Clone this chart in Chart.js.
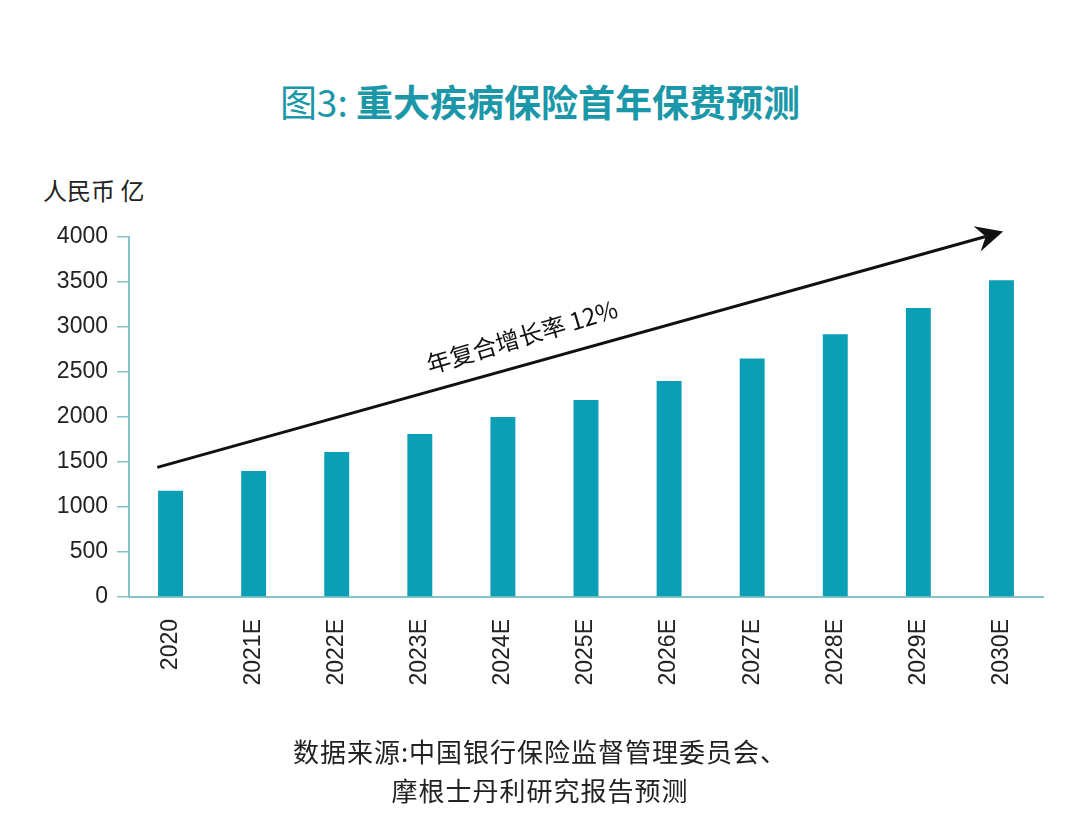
<!DOCTYPE html>
<html lang="zh">
<head>
  <meta charset="UTF-8" />
  <title>重大疾病保险首年保费预测</title>
  <script src="https://cdn.jsdelivr.net/npm/chart.js"></script>
  <style>
    html, body { margin: 0; padding: 0; background: #fff; }
    body { width: 1080px; height: 835px; position: relative; overflow: hidden; font-family: "Noto Sans CJK SC", "Noto Sans", sans-serif; }
    #chart { position: absolute; left: 0; top: 0; }
    .title { position: absolute; left: 0; width: 1080px; top: 74px; text-align: center; font-size: 37px; font-weight: 700; color: #1a97a8; }
    .title span { font-weight: 400; }
    .unit { position: absolute; left: 43px; top: 172px; font-size: 24px; color: #222; }
    .source { position: absolute; left: 0; width: 1080px; top: 731px; text-align: center; font-size: 26px; letter-spacing: 1px; line-height: 39px; color: #222; }
  </style>
</head>
<body>
  <div class="title"><span>图3:</span> 重大疾病保险首年保费预测</div>
  <div class="unit">人民币 亿</div>
  <canvas id="chart" width="1080" height="835"></canvas>
  <div class="source">数据来源:中国银行保险监督管理委员会、<br>摩根士丹利研究报告预测</div>

  <script>
    // data
    const years = ['2020', '2021E', '2022E', '2023E', '2024E', '2025E', '2026E', '2027E', '2028E', '2029E', '2030E'];
    const premiums = [1180, 1400, 1610, 1810, 2000, 2190, 2400, 2650, 2920, 3210, 3520];
    const yTicks = [0, 500, 1000, 1500, 2000, 2500, 3000, 3500, 4000];

    // trend arrow, in category index / value terms
    const arrowFrom = [-0.16, 1440];
    const arrowTo = [10.02, 4060];
    const arrowLabel = '年复合增长率 12%';

    const barColor = '#0a9fb4';
    const axisColor = '#86c3c8';

    const arrowPlugin = {
      id: 'trendArrow',
      afterDatasetsDraw(chart) {
        const ctx = chart.ctx;
        const x = chart.scales.x, y = chart.scales.y;
        const step = x.getPixelForValue(1) - x.getPixelForValue(0);
        const x0 = x.getPixelForValue(0) + arrowFrom[0] * step;
        const y0 = y.getPixelForValue(arrowFrom[1]);
        const x1 = x.getPixelForValue(0) + arrowTo[0] * step;
        const y1 = y.getPixelForValue(arrowTo[1]);
        const ang = Math.atan2(y1 - y0, x1 - x0);
        const head = 30;

        ctx.save();
        ctx.strokeStyle = '#111';
        ctx.fillStyle = '#111';
        ctx.lineWidth = 3;
        ctx.beginPath();
        ctx.moveTo(x0, y0);
        ctx.lineTo(x1 - Math.cos(ang) * head * 0.6, y1 - Math.sin(ang) * head * 0.6);
        ctx.stroke();

        // arrow head
        ctx.beginPath();
        ctx.moveTo(x1, y1);
        ctx.lineTo(x1 - head * Math.cos(ang - 0.45), y1 - head * Math.sin(ang - 0.45));
        ctx.lineTo(x1 - head * 0.6 * Math.cos(ang), y1 - head * 0.6 * Math.sin(ang));
        ctx.lineTo(x1 - head * Math.cos(ang + 0.45), y1 - head * Math.sin(ang + 0.45));
        ctx.closePath();
        ctx.fill();

        // label along the arrow
        const t = 0.44;
        const mx = x0 + (x1 - x0) * t, my = y0 + (y1 - y0) * t;
        const off = 28;
        ctx.translate(mx + Math.sin(ang) * off, my - Math.cos(ang) * off);
        ctx.rotate(ang - 0.02);
        ctx.font = '24px "Noto Sans CJK SC", sans-serif';
        ctx.textAlign = 'center';
        ctx.textBaseline = 'middle';
        ctx.fillText(arrowLabel, 0, 0);
        ctx.restore();
      }
    };

    new Chart(document.getElementById('chart'), {
      type: 'bar',
      data: {
        labels: years,
        datasets: [{
          data: premiums,
          backgroundColor: barColor,
          barPercentage: 0.3,
          categoryPercentage: 1
        }]
      },
      options: {
        responsive: false,
        animation: false,
        layout: { padding: { top: 237, left: 0, right: 37, bottom: 138 } },
        plugins: { legend: { display: false }, tooltip: { enabled: false } },
        scales: {
          x: {
            grid: { display: false },
            border: { color: axisColor, width: 2 },
            ticks: {
              minRotation: 90, maxRotation: 90, padding: 14,
              color: '#222',
              font: { family: '"Liberation Sans", Arial, sans-serif', size: 23 }
            },
            afterFit(scale) { scale.height = 100; }
          },
          y: {
            min: 0, max: 4000,
            afterBuildTicks(scale) { scale.ticks = yTicks.map(v => ({ value: v })); },
            grid: { drawOnChartArea: false, drawTicks: true, tickLength: 12, color: axisColor, lineWidth: 1.5 },
            border: { color: axisColor, width: 2 },
            ticks: {
              padding: 9,
              color: '#222',
              font: { family: '"Liberation Sans", Arial, sans-serif', size: 23 },
              callback: v => String(v)
            },
            afterFit(scale) { scale.width = 129; }
          }
        }
      },
      plugins: [arrowPlugin]
    });
  </script>
</body>
</html>
